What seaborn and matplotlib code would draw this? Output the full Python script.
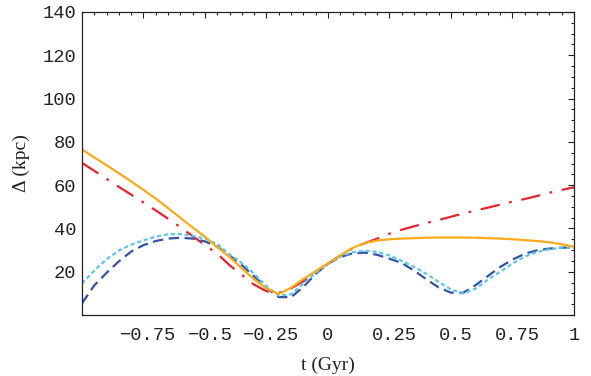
import numpy as np
import pandas as pd
import matplotlib
matplotlib.use("Agg")
import matplotlib.pyplot as plt
import matplotlib.transforms as mtransforms
import seaborn as sns

t = [-1.00, -0.95, -0.90, -0.85, -0.80, -0.75, -0.70, -0.65, -0.60, -0.55,
     -0.50, -0.45, -0.40, -0.35, -0.30, -0.25, -0.20, -0.15, -0.10, -0.05,
     0.00, 0.05, 0.10, 0.15, 0.20, 0.25, 0.30, 0.35, 0.40, 0.45,
     0.50, 0.55, 0.60, 0.65, 0.70, 0.75, 0.80, 0.85, 0.90, 0.95, 1.00]

red = [70.3, 66.6, 62.9, 59.2, 55.6, 52.0, 48.3, 44.5, 40.6, 36.4,
       32.3, 28.3, 23.0, 18.5, 14.0, 11.0, 10.2, 12.3, 15.6, 19.3,
       23.7, 27.5, 30.8, 33.2, 35.3, 37.6, 39.4, 41.0, 42.5, 43.9,
       45.4, 46.9, 48.3, 49.6, 51.0, 52.4, 53.6, 55.0, 56.5, 57.8, 59.0]

dark_blue = [5.4, 13.7, 19.5, 24.8, 29.3, 32.3, 34.2, 35.3, 35.7, 35.3,
             34.0, 31.5, 27.5, 23.0, 17.8, 12.5, 8.3, 8.2, 13.0, 19.0,
             23.7, 26.8, 28.5, 28.8, 27.8, 26.0, 24.0, 20.5, 16.5, 12.7,
             10.3, 10.3, 13.8, 18.0, 22.2, 25.6, 28.3, 29.9, 30.7, 31.1, 31.2]

light_blue = [14.6, 20.5, 25.8, 29.8, 32.5, 34.5, 36.2, 37.3, 37.4, 36.6,
              35.2, 32.8, 28.0, 24.0, 19.0, 13.3, 9.0, 9.6, 14.5, 19.5,
              23.7, 27.0, 29.0, 29.7, 29.2, 27.5, 25.0, 22.2, 19.0, 15.3,
              11.8, 10.0, 12.2, 16.3, 20.0, 23.8, 27.0, 29.1, 30.4, 31.0, 31.2]

orange = [76.5, 72.8, 69.2, 65.5, 61.7, 57.8, 53.8, 49.4, 44.9, 40.4,
          36.1, 31.3, 26.8, 21.5, 16.5, 12.3, 9.7, 12.6, 16.6, 20.3,
          23.9, 27.6, 31.0, 33.3, 34.4, 35.0, 35.3, 35.5, 35.7, 35.8,
          35.8, 35.8, 35.7, 35.5, 35.3, 35.0, 34.6, 34.2, 33.6, 32.7, 31.5]

x_ticks = [-0.75, -0.5, -0.25, 0, 0.25, 0.5, 0.75, 1]
x_labels = ["-0.75", "-0.5", "-0.25", "0", "0.25", "0.5", "0.75", "1"]
y_ticks = [20, 40, 60, 80, 100, 120, 140]

sns.set_theme(style="white")
plt.rcParams["font.family"] = ["Liberation Mono", "DejaVu Sans"]
plt.rcParams["lines.scale_dashes"] = False
plt.rcParams["axes.unicode_minus"] = True

fig = plt.figure(figsize=(5.91, 3.76), dpi=100)
ax = fig.add_axes([82 / 591, 61 / 376, 492 / 591, 303 / 376])

sns.lineplot(x=t, y=red, ax=ax, color="#e8232b", lw=1.6,
             linestyle=(0, (14, 7, 2, 7)))
sns.lineplot(x=t, y=dark_blue, ax=ax, color="#3451a3", lw=1.6,
             linestyle=(0, (7.5, 4)))
sns.lineplot(x=t, y=light_blue, ax=ax, color="#5cc6ea", lw=1.6,
             linestyle=(0, (3, 2)))
sns.lineplot(x=t, y=orange, ax=ax, color="#fbaa1a", lw=1.6)

ax.set_xlim(-1, 1)
ax.set_ylim(0, 140)

ax.set_xticks(x_ticks)
ax.set_xticklabels([s.replace("-", "\u2212") for s in x_labels])
ax.set_xticks(np.arange(-1, 1.001, 0.05), minor=True)
ax.set_yticks(y_ticks)
ax.set_yticks(np.arange(0, 140.1, 5), minor=True)

ax.tick_params(which="both", direction="in", top=True, right=True,
               color="#222222", width=0.8)
ax.tick_params(which="major", length=4)
ax.tick_params(which="minor", length=2)
ax.tick_params(axis="x", which="major", labelsize=13.5, pad=9,
               labelcolor="#222222")
ax.tick_params(axis="y", which="major", labelsize=13.5, pad=4,
               labelcolor="#222222")

# Mathematica-like nudge of the multi-character x labels
shift = mtransforms.ScaledTranslation(5 / 100, 0, fig.dpi_scale_trans)
for lab in ax.get_xticklabels():
    if len(lab.get_text()) > 1:
        lab.set_transform(lab.get_transform() + shift)

for sp in ax.spines.values():
    sp.set_color("#222222")
    sp.set_linewidth(0.9)

ax.set_xlabel("t (Gyr)", family=["Liberation Serif"], fontsize=14,
              color="#222222", labelpad=9)
ax.set_ylabel("\u0394 (kpc)", family=["Liberation Serif"], fontsize=14,
              color="#222222", labelpad=9)

fig.savefig("out.png", dpi=100)
